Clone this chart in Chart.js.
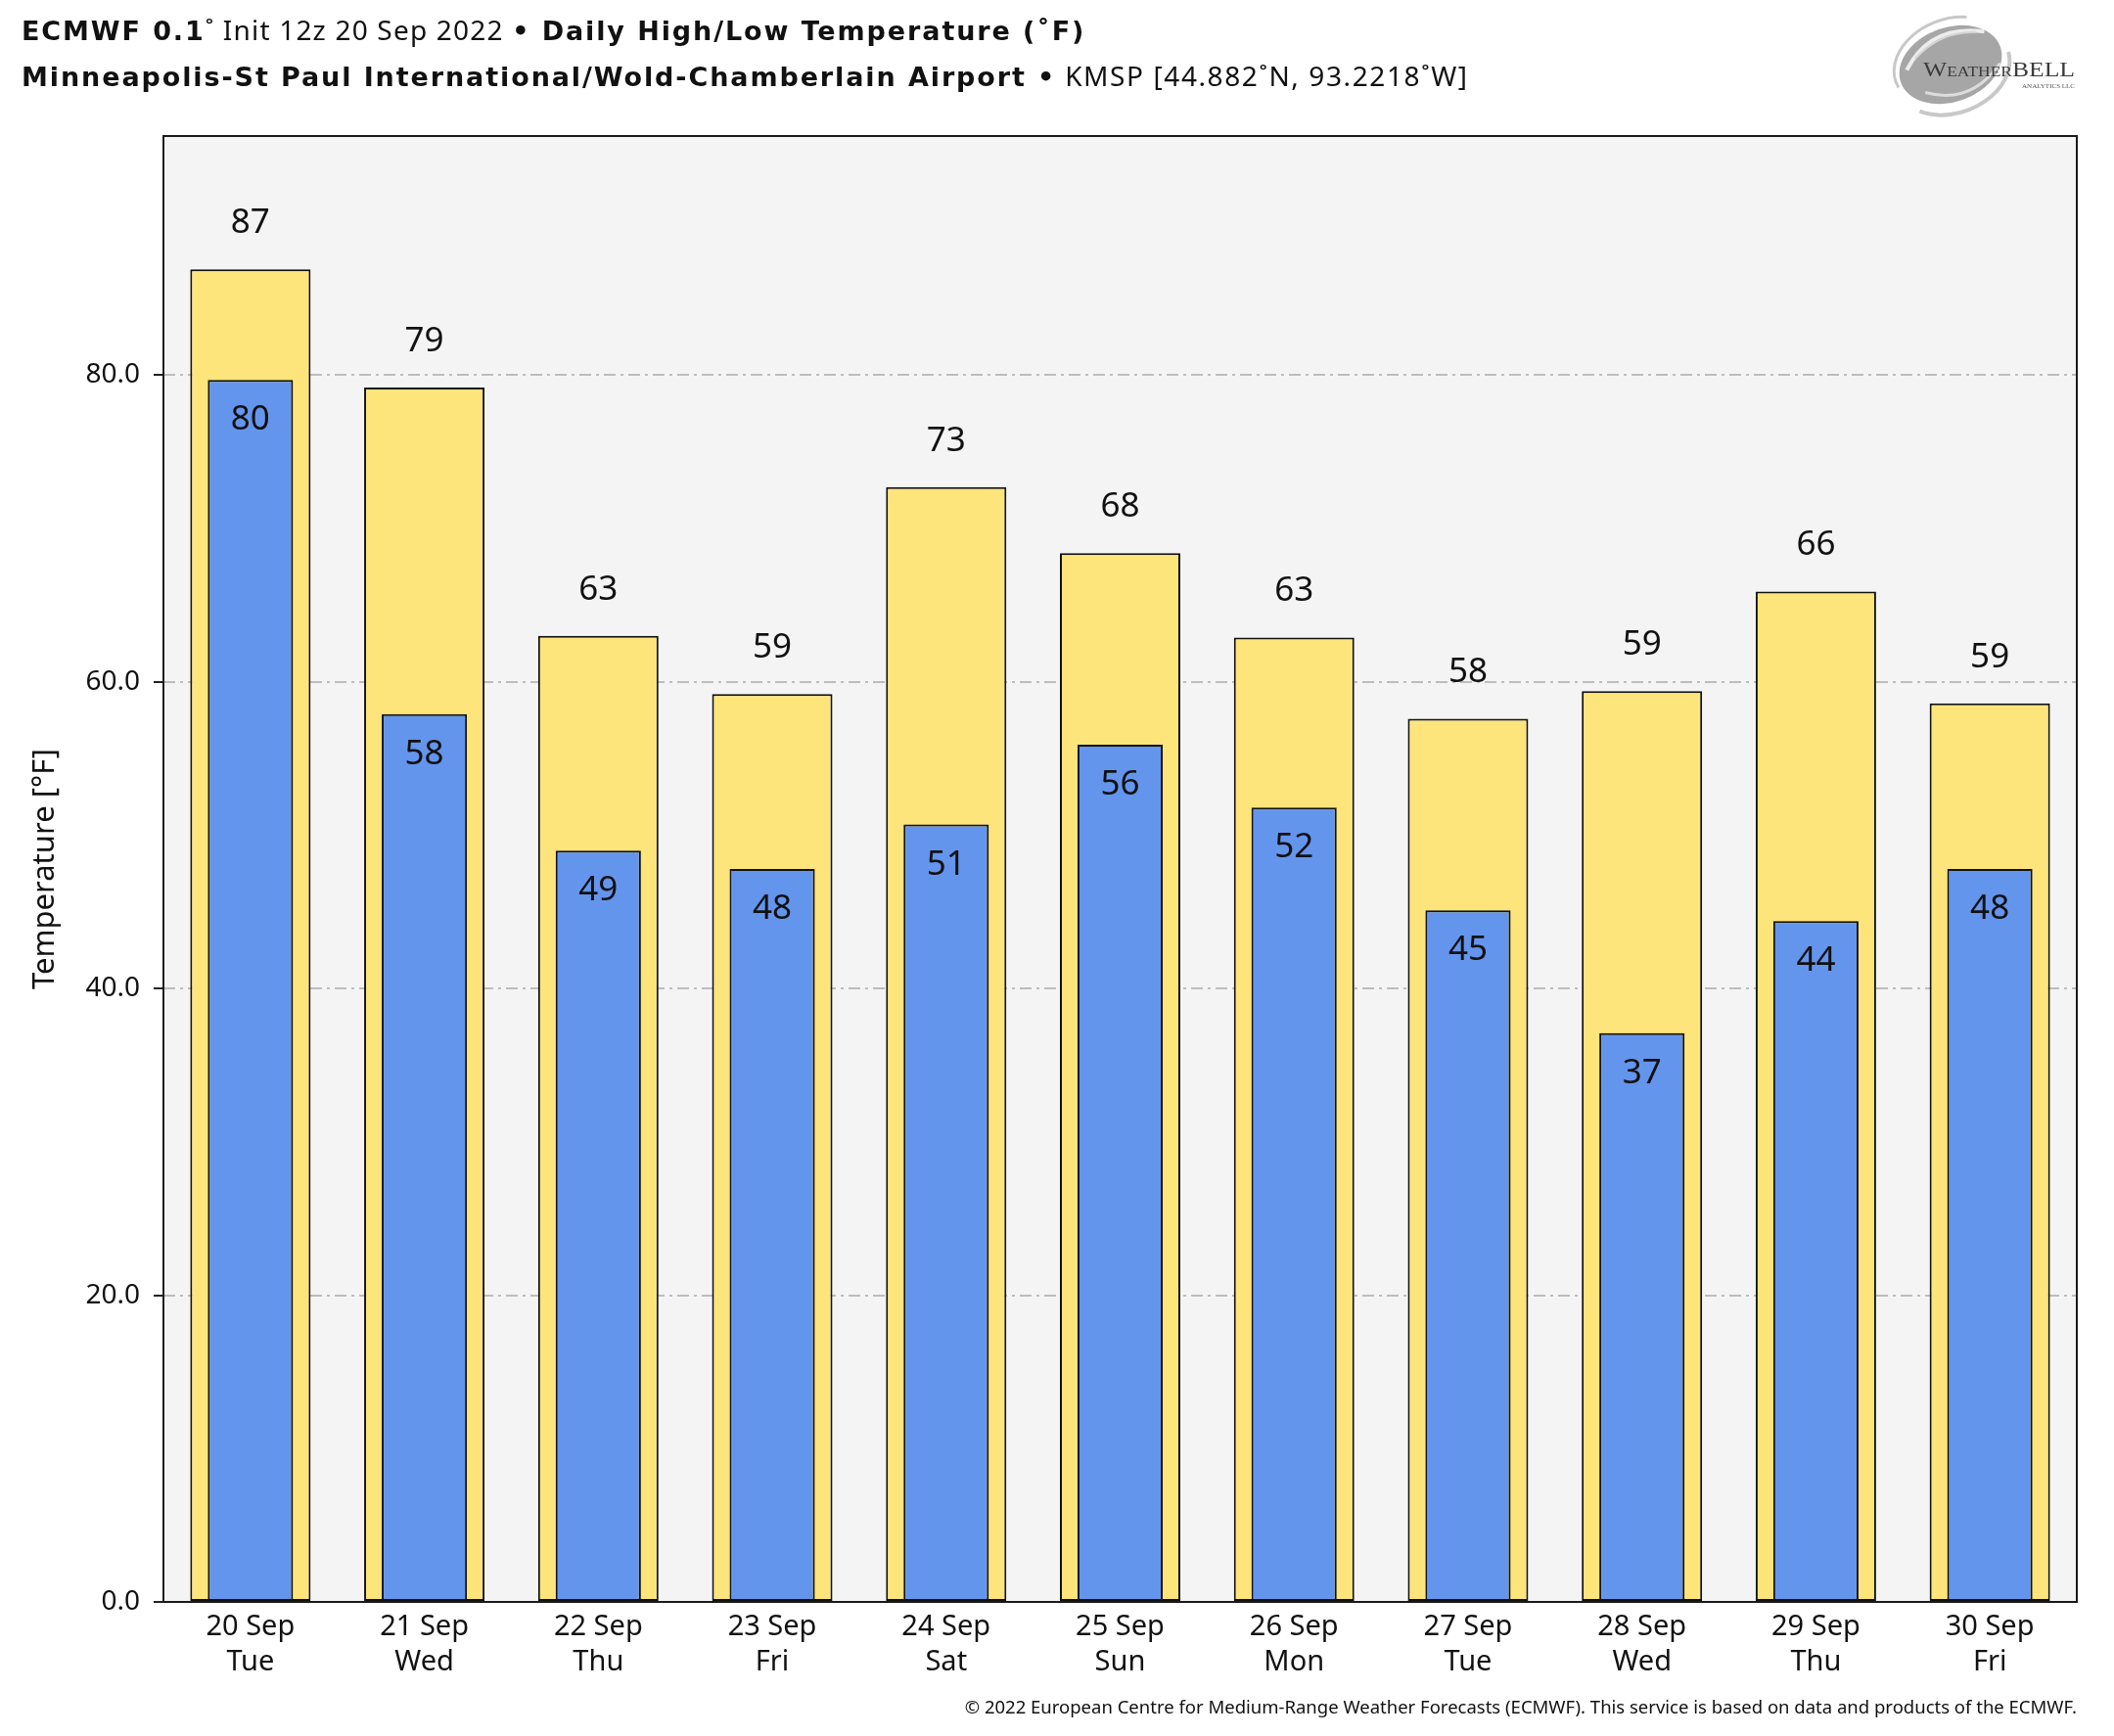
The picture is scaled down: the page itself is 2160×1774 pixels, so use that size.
<!DOCTYPE html>
<html>
<head>
<meta charset="utf-8">
<title>ECMWF Daily High/Low Temperature</title>
<script src="https://cdn.jsdelivr.net/npm/chart.js@4.4.1/dist/chart.umd.min.js"></script>
<style>
    body { margin: 0; background: #fff; font-family: 'Noto Sans', sans-serif; }
    #wrap { position: relative; width: 2160px; height: 1774px; overflow: hidden; }
    #chart { position: absolute; left: 0; top: 0; }
    .title { position: absolute; left: 22px; font-size: 27px; color: #111; white-space: nowrap; line-height: 1; font-family: 'DejaVu Sans', sans-serif; }
    .title b { font-weight: 700; letter-spacing: 1.9px; }
    .title span { font-family: 'Noto Sans', sans-serif; font-size: 28px; letter-spacing: 1.2px; }
    #t2 span { letter-spacing: 1.6px; }
    #t1 { top: 16px; }
    #t2 { top: 63px; }
    #foot { position: absolute; right: 38px; top: 1731px; font-size: 18.5px; color: #111; white-space: nowrap; }
    #logo { position: absolute; left: 1925px; top: 8px; }
</style>
</head>
<body>
<div id="wrap">
    <canvas id="chart" width="2160" height="1774"></canvas>
    <div class="title" id="t1"><b>ECMWF 0.1</b><span>˚ Init 12z 20 Sep 2022 </span><b>• Daily High/Low Temperature (˚F)</b></div>
    <div class="title" id="t2"><b>Minneapolis-St Paul International/Wold-Chamberlain Airport •</b><span> KMSP [44.882˚N, 93.2218˚W]</span></div>
    <div id="foot">© 2022 European Centre for Medium-Range Weather Forecasts (ECMWF). This service is based on data and products of the ECMWF.</div>
    <svg id="logo" width="210" height="115" viewBox="0 0 210 115">
        <g transform="rotate(-20 68 58)">
            <path d="M10 62 A60 44 0 0 1 100 18" fill="none" stroke="#c8c8c8" stroke-width="3"/>
            <path d="M22 92 A60 44 0 0 0 128 66" fill="none" stroke="#c8c8c8" stroke-width="4"/>
            <ellipse cx="68" cy="58" rx="54" ry="38" fill="#a6a6a6"/>
            <path d="M24 48 Q62 12 112 38" fill="none" stroke="#ececec" stroke-width="4"/>
            <path d="M36 40 Q70 22 104 36" fill="none" stroke="#d4d4d4" stroke-width="2"/>
            <path d="M34 76 Q74 104 116 74" fill="none" stroke="#dcdcdc" stroke-width="3"/>
        </g>
        <text x="40" y="70" font-family="Liberation Serif" font-size="22" fill="#3c3c3c" textLength="155" lengthAdjust="spacingAndGlyphs">W<tspan font-size="15">EATHER</tspan>BELL</text>
        <text x="195" y="82" font-family="Liberation Serif" font-size="7" fill="#555" text-anchor="end">ANALYTICS LLC</text>
    </svg>
</div>
<script>
const dayLabels = [
    ['20 Sep', 'Tue'], ['21 Sep', 'Wed'], ['22 Sep', 'Thu'], ['23 Sep', 'Fri'],
    ['24 Sep', 'Sat'], ['25 Sep', 'Sun'], ['26 Sep', 'Mon'], ['27 Sep', 'Tue'],
    ['28 Sep', 'Wed'], ['29 Sep', 'Thu'], ['30 Sep', 'Fri']
];
const highTemps = [86.9, 79.2, 63.0, 59.2, 72.7, 68.4, 62.9, 57.6, 59.4, 65.9, 58.6];
const lowTemps = [79.7, 57.9, 49.0, 47.8, 50.7, 55.9, 51.8, 45.1, 37.1, 44.4, 47.8];
const yTicks = [0, 20, 40, 60, 80];
const yMax = 95.6;

// plot background + frame
const plotFrame = {
    id: 'plotFrame',
    beforeDraw(chart) {
        const {ctx, chartArea: a} = chart;
        ctx.save();
        ctx.fillStyle = '#f4f4f4';
        ctx.fillRect(a.left, a.top, a.right - a.left, a.bottom - a.top);
        ctx.restore();
    },
    afterDatasetsDraw(chart) {
        const {ctx, chartArea: a} = chart;
        ctx.save();
        ctx.strokeStyle = '#1a1a1a';
        ctx.lineWidth = 2;
        ctx.strokeRect(a.left, a.top, a.right - a.left, a.bottom - a.top);
        ctx.restore();
    }
};

// numbers above the highs and inside the lows
const valueLabels = {
    id: 'valueLabels',
    afterDatasetsDraw(chart) {
        const ctx = chart.ctx;
        ctx.save();
        ctx.font = '35px "Noto Sans"';
        ctx.fillStyle = '#111';
        ctx.textAlign = 'center';
        ctx.textBaseline = 'alphabetic';
        chart.getDatasetMeta(0).data.forEach((bar, i) => {
            ctx.fillText(Math.round(highTemps[i]), bar.x, bar.y - 37);
        });
        chart.getDatasetMeta(1).data.forEach((bar, i) => {
            ctx.fillText(Math.round(lowTemps[i]), bar.x, bar.y + 51);
        });
        ctx.restore();
    }
};

new Chart(document.getElementById('chart'), {
    type: 'bar',
    data: {
        labels: dayLabels,
        datasets: [{
            label: 'High',
            data: highTemps,
            backgroundColor: '#fde47b',
            borderColor: '#111',
            borderWidth: 2,
            borderSkipped: false,
            barPercentage: 0.692,
            categoryPercentage: 1,
            grouped: false,
            order: 2
        }, {
            label: 'Low',
            data: lowTemps,
            backgroundColor: '#6495ed',
            borderColor: '#111',
            borderWidth: 2,
            borderSkipped: false,
            barPercentage: 0.49,
            categoryPercentage: 1,
            grouped: false,
            order: 1
        }]
    },
    options: {
        responsive: false,
        animation: false,
        devicePixelRatio: 1,
        layout: { padding: { top: 139, right: 38, bottom: 0, left: 0 } },
        plugins: {
            legend: { display: false },
            tooltip: { enabled: false }
        },
        scales: {
            x: {
                grid: { display: false },
                border: { display: false },
                ticks: {
                    color: '#111',
                    font: { family: 'Noto Sans', size: 29, lineHeight: 1.23 },
                    padding: 0,
                    maxRotation: 0,
                    autoSkip: false
                },
                afterFit: scale => { scale.height = 1774 - 1637; }
            },
            y: {
                min: 0,
                max: yMax,
                afterBuildTicks: scale => { scale.ticks = yTicks.map(v => ({ value: v })); },
                afterFit: scale => { scale.width = 167; },
                grid: {
                    color: ctx => (ctx.tick && ctx.tick.value === 0) ? 'rgba(0,0,0,0)' : '#bdbdbd',
                    lineWidth: 2,
                    borderDash: [12, 5, 3, 5],
                    tickLength: 10,
                    tickColor: '#222',
                    tickWidth: 2,
                    tickBorderDash: []
                },
                border: { display: false, dash: [12, 5, 3, 5] },
                ticks: {
                    color: '#111',
                    font: { family: 'Noto Sans', size: 28 },
                    padding: 14,
                    callback: v => Number(v).toFixed(1)
                },
                title: {
                    display: true,
                    text: 'Temperature [°F]',
                    color: '#111',
                    font: { family: 'Noto Sans', size: 31 },
                    padding: { top: 28, bottom: 0 }
                }
            }
        }
    },
    plugins: [plotFrame, valueLabels]
});
</script>
</body>
</html>
